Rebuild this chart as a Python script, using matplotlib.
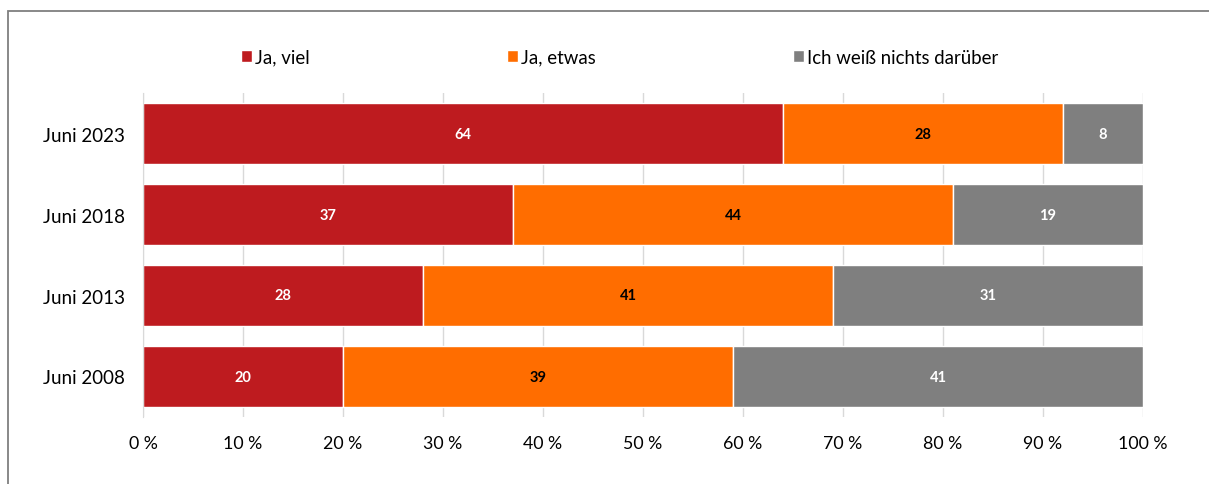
import matplotlib.pyplot as plt
import matplotlib.patches as mpatches
import numpy as np

plt.rcParams['font.family'] = ['Lato', 'DejaVu Sans']

# Daten
jahre = ["Juni 2023", "Juni 2018", "Juni 2013", "Juni 2008"]
serien = ["Ja, viel", "Ja, etwas", "Ich weiß nichts darüber"]
ja_viel = [64, 37, 28, 20]
ja_etwas = [28, 44, 41, 39]
weiss_nicht = [8, 19, 31, 41]
xticks = [0, 10, 20, 30, 40, 50, 60, 70, 80, 90, 100]

farben = ["#BE1B1F", "#FF6D00", "#7F7F7F"]
textfarben = ["white", "black", "white"]

fig = plt.figure(figsize=(12.09, 4.85), dpi=100)
ax = fig.add_axes([143 / 1209, 1 - 418 / 485, 1000 / 1209, 324 / 485])

y = np.arange(len(jahre))
links = np.zeros(len(jahre))
for werte, farbe, tf, name in zip([ja_viel, ja_etwas, weiss_nicht], farben, textfarben, serien):
    bars = ax.barh(y, werte, left=links, height=0.753, color=farbe,
                   edgecolor="white", linewidth=1, label=name, zorder=3)
    ax.bar_label(bars, labels=[str(v) for v in werte], label_type="center",
                 color=tf, fontsize=10.5, fontweight="bold")
    links += np.array(werte)

ax.set_ylim(len(jahre) - 0.5, -0.5)
ax.set_xlim(0, 100)
ax.set_yticks(y)
ax.set_yticklabels(jahre, fontsize=13.5)
ax.set_xticks(xticks)
ax.set_xticklabels([f"{t} %" for t in xticks], fontsize=12.8)
ax.tick_params(axis="y", length=0, pad=13)
ax.tick_params(axis="x", length=0, pad=13)
ax.grid(axis="x", color="#D9D9D9", linewidth=1, zorder=0)
for s in ["top", "right", "bottom"]:
    ax.spines[s].set_visible(False)
ax.spines["left"].set_color("#D9D9D9")
ax.spines["left"].set_zorder(4)

ax.legend(loc="center left", bbox_to_anchor=(234 / 1209, 1 - 58 / 485),
          bbox_transform=fig.transFigure, ncol=3, frameon=False, fontsize=13.4,
          handlelength=0.55, handleheight=0.55, handletextpad=0.2,
          columnspacing=10.6, borderaxespad=0)

# Rahmen
rahmen = mpatches.Rectangle((8 / 1209, -0.1), 1.2, 1 - 12 / 485 + 0.1,
                            transform=fig.transFigure, fill=False,
                            edgecolor="#7F7F7F", linewidth=1.3)
fig.add_artist(rahmen)

plt.savefig("out.png", dpi=100)
